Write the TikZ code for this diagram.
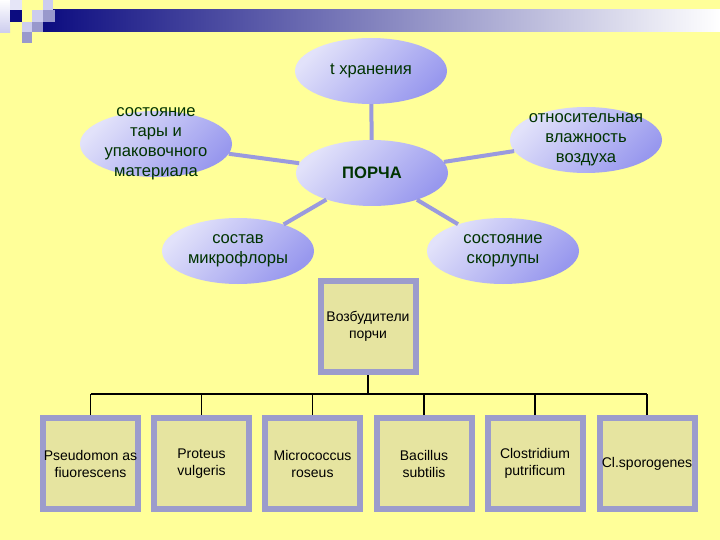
\documentclass[tikz,border=0pt]{standalone}
\usepackage{fontspec}
\setmainfont{Liberation Sans}
\usetikzlibrary{shapes.geometric}
\definecolor{bgyellow}{HTML}{FFFF99}
\definecolor{navy}{HTML}{0C0C80}
\definecolor{lavpale}{HTML}{CCCCEE}
\definecolor{lavmid}{HTML}{9999CC}
\definecolor{lavlight}{HTML}{E2E2FA}
\definecolor{lavdark}{HTML}{9898EE}
\definecolor{spokeblue}{HTML}{9A9ADE}
\definecolor{textgreen}{HTML}{003300}
\definecolor{boxline}{HTML}{9C9CCC}
\definecolor{boxfill}{HTML}{E6E4A0}
\begin{document}
\begin{tikzpicture}[x=1pt,y=-1pt,
  blob/.style={ellipse, top color=lavlight, bottom color=lavdark, shading angle=45,
    minimum width=152pt, minimum height=66pt, inner sep=-20pt, align=center,
    text=textgreen, font=\fontsize{16.6}{20}\selectfont},
  bug/.style={rectangle, draw=boxline, line width=6pt, fill=boxfill,
    minimum width=95pt, minimum height=91pt, inner sep=1pt, align=center,
    font=\fontsize{14}{17}\selectfont},
  spoke/.style={draw=spokeblue, line width=4pt},
  tree/.style={draw=black, line width=1.8pt}]
\fill[bgyellow] (0,0) rectangle (720,540);
\useasboundingbox (0,0) rectangle (720,540);

% title bar and corner squares
\shade[left color=navy, right color=white] (43,10) rectangle (720,32);
\shade[top color=white, bottom color=lavpale] (0,0) rectangle (10,33);
\fill[lavpale!50] (10,0) rectangle (22,10);
\fill[navy] (10,10) rectangle (22,22);
\fill[lavpale] (43,0) rectangle (53,10);
\fill[lavpale] (32,10) rectangle (43,22);
\fill[lavmid] (43,10) rectangle (55,22);
\fill[lavpale] (22,22) rectangle (32,32);
\fill[lavmid] (32,22) rectangle (43,32);
\fill[lavmid] (22,32) rectangle (32,43);

% factors
\node[blob] (porcha) at (372,173) {\textbf{ПОРЧА}};
\node[blob] (temp) at (371,71) {t хранения};
\node[blob] (tara) at (156,144) {состояние\\тары и\\упаковочного\\материала};
\node[blob] (vlazh) at (586,140) {относительная\\влажность\\воздуха};
\node[blob] (flora) at (238,251) {состав\\микрофлоры};
\node[blob] (shell) at (503,251) {состояние\\скорлупы};
\draw[spoke] (porcha) -- (temp);
\draw[spoke] (porcha) -- (tara);
\draw[spoke] (porcha) -- (vlazh);
\draw[spoke] (porcha) -- (flora);
\draw[spoke] (porcha) -- (shell);

% agents
\node[bug] (vozb) at (368,326.5) {Возбудители\\порчи};
\node[bug] (b1) at (90.5,463.5) {Pseudomon as\\fiuorescens};
\node[bug] (b2) at (201.5,463.5) {Proteus\\vulgeris};
\node[bug] (b3) at (312.5,463.5) {Micrococcus\\roseus};
\node[bug] (b4) at (424,463.5) {Bacillus\\subtilis};
\node[bug] (b5) at (535,463.5) {Clostridium\\putrificum};
\node[bug] (b6) at (647,463.5) {Cl.sporogenes};
\coordinate (bus) at (368,394);
\draw[tree] (vozb.south) -- (bus);
\draw[tree] (b1.north |- bus) -- (b6.north |- bus);
\foreach \i in {1,...,6}
  \draw[tree] (b\i.north) -- (b\i.north |- bus);
\end{tikzpicture}
\end{document}
